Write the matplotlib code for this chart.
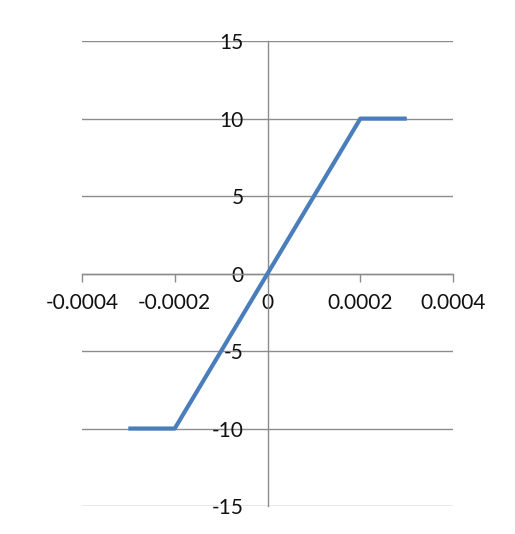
import matplotlib
matplotlib.use("Agg")
import matplotlib.pyplot as plt

# series
x_vals = [-0.0003, -0.0002, 0.0, 0.0002, 0.0003]
y_vals = [-10, -10, 0, 10, 10]
x_ticks = [-0.0004, -0.0002, 0, 0.0002, 0.0004]
x_labels = ["-0.0004", "-0.0002", "0", "0.0002", "0.0004"]
y_ticks = [-15, -10, -5, 0, 5, 10, 15]

grid_col = "#8c8c8c"

plt.rcParams['font.family'] = ['Lato', 'DejaVu Sans']
plt.rcParams['axes.unicode_minus'] = False

fig = plt.figure(figsize=(5.15, 5.34), dpi=100)
ax = fig.add_axes([0.159, 0.0524, 0.721, 0.8706])

ax.plot(x_vals, y_vals, color="#4a7ebb", linewidth=3, solid_capstyle="butt", zorder=3)

ax.set_xlim(-0.0004, 0.0004)
ax.set_ylim(-15, 15)
ax.set_xticks(x_ticks)
ax.set_xticklabels(x_labels)
ax.set_yticks(y_ticks)

ax.yaxis.grid(True, color=grid_col, linewidth=1)
ax.set_axisbelow(True)

for side in ("top", "right"):
    ax.spines[side].set_visible(False)
for side in ("left", "bottom"):
    ax.spines[side].set_position("zero")
    ax.spines[side].set_color(grid_col)
    ax.spines[side].set_linewidth(1)

ax.tick_params(axis="x", direction="out", length=6, width=1, color=grid_col,
               labelsize=15, labelcolor="#111111", pad=8)
ax.tick_params(axis="y", length=0, labelsize=15, labelcolor="#111111", pad=17)

fig.savefig("out.png", dpi=100)
plt.close(fig)
